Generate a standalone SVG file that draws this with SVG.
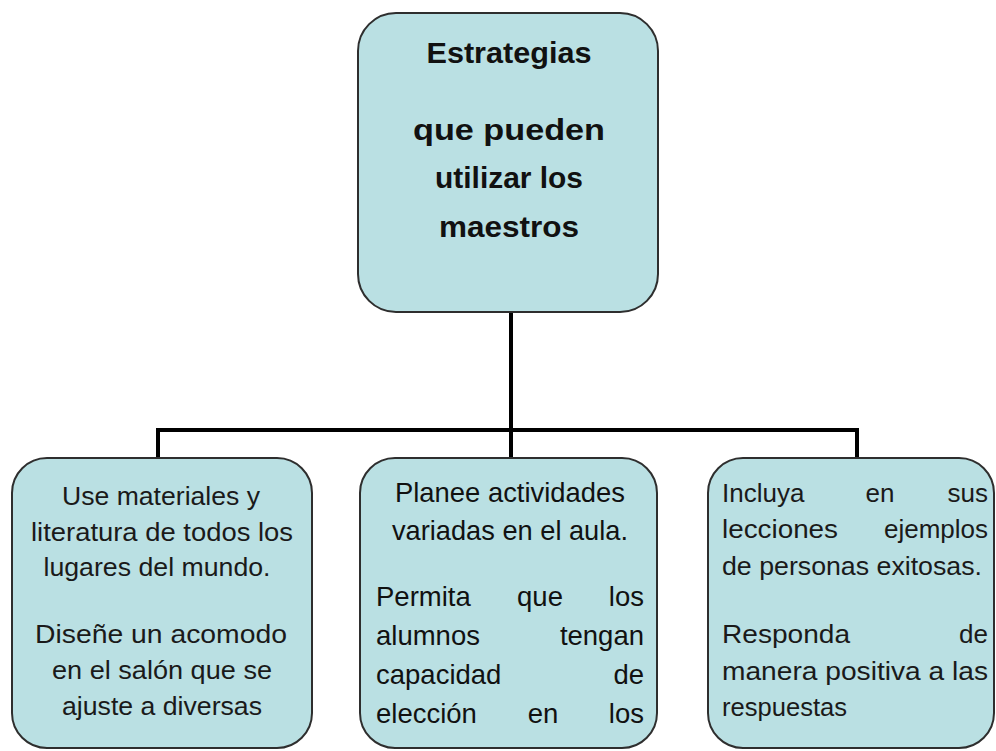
<svg xmlns="http://www.w3.org/2000/svg" width="996" height="751" viewBox="0 0 996 751">
<style>
.box{fill:#bae0e3;stroke:#2e2e2e;stroke-width:2}
.conn{fill:none;stroke:#000;stroke-width:4}
.g{font-family:"Liberation Sans",Arial,sans-serif;font-size:26px;fill:#1a1a1a}
.b{font-family:"Liberation Sans",Arial,sans-serif;font-size:30px;font-weight:bold;fill:#111}
.a{font-family:"Liberation Sans",Arial,sans-serif;font-size:27.5px;fill:#111}
</style>
<rect width="996" height="751" fill="#fff"/>
<g id="connectors">
<path class="conn" d="M511 312 V430 M158 430 H857 M158 428 V459 M511 430 V459 M857 428 V459"/>
</g>
<g id="top">
<rect class="box" x="358" y="13" width="300" height="299" rx="38"/>
<text class="b" x="509" y="63" text-anchor="middle" textLength="165" lengthAdjust="spacingAndGlyphs">Estrategias</text>
<text class="b" x="509" y="140" text-anchor="middle" textLength="192" lengthAdjust="spacingAndGlyphs">que pueden</text>
<text class="b" x="509" y="188" text-anchor="middle" textLength="148" lengthAdjust="spacingAndGlyphs">utilizar los</text>
<text class="b" x="509" y="237" text-anchor="middle" textLength="140" lengthAdjust="spacingAndGlyphs">maestros</text>
</g>
<g id="left">
<rect class="box" x="12" y="458" width="300" height="290" rx="35"/>
<text class="g" x="161" y="505" text-anchor="middle" textLength="198" lengthAdjust="spacingAndGlyphs">Use materiales y</text>
<text class="g" x="162" y="541" text-anchor="middle" textLength="262" lengthAdjust="spacingAndGlyphs">literatura de todos los</text>
<text class="g" x="157" y="576" text-anchor="middle" textLength="227" lengthAdjust="spacingAndGlyphs">lugares del mundo.</text>
<text class="g" x="161" y="643" text-anchor="middle" textLength="252" lengthAdjust="spacingAndGlyphs">Diseñe un acomodo</text>
<text class="g" x="162" y="679" text-anchor="middle" textLength="220" lengthAdjust="spacingAndGlyphs">en el salón que se</text>
<text class="g" x="162" y="715" text-anchor="middle" textLength="200" lengthAdjust="spacingAndGlyphs">ajuste a diversas</text>
</g>
<g id="middle">
<rect class="box" x="360" y="458" width="297" height="290" rx="35"/>
<text class="a" x="510" y="502" text-anchor="middle" textLength="230" lengthAdjust="spacingAndGlyphs">Planee actividades</text>
<text class="a" x="510" y="540" text-anchor="middle" textLength="236" lengthAdjust="spacingAndGlyphs">variadas en el aula.</text>
<text class="a" x="376" y="606">Permita</text>
<text class="a" x="540" y="606" text-anchor="middle">que</text>
<text class="a" x="644" y="606" text-anchor="end">los</text>
<text class="a" x="376" y="645">alumnos</text>
<text class="a" x="644" y="645" text-anchor="end">tengan</text>
<text class="a" x="376" y="684">capacidad</text>
<text class="a" x="644" y="684" text-anchor="end">de</text>
<text class="a" x="376" y="723">elección</text>
<text class="a" x="543" y="723" text-anchor="middle">en</text>
<text class="a" x="644" y="723" text-anchor="end">los</text>
</g>
<g id="right">
<rect class="box" x="708" y="458" width="286" height="290" rx="35"/>
<text class="g" x="722" y="502">Incluya</text>
<text class="g" x="880" y="502" text-anchor="middle">en</text>
<text class="g" x="988" y="502" text-anchor="end">sus</text>
<text class="g" x="722" y="538" textLength="116" lengthAdjust="spacingAndGlyphs">lecciones</text>
<text class="g" x="988" y="538" text-anchor="end">ejemplos</text>
<text class="g" x="722" y="575" textLength="260" lengthAdjust="spacingAndGlyphs">de personas exitosas.</text>
<text class="g" x="722" y="643" textLength="128" lengthAdjust="spacingAndGlyphs">Responda</text>
<text class="g" x="988" y="643" text-anchor="end">de</text>
<text class="g" x="722" y="680" textLength="266" lengthAdjust="spacingAndGlyphs">manera positiva a las</text>
<text class="g" x="722" y="716" textLength="125" lengthAdjust="spacingAndGlyphs">respuestas</text>
</g>
</svg>
